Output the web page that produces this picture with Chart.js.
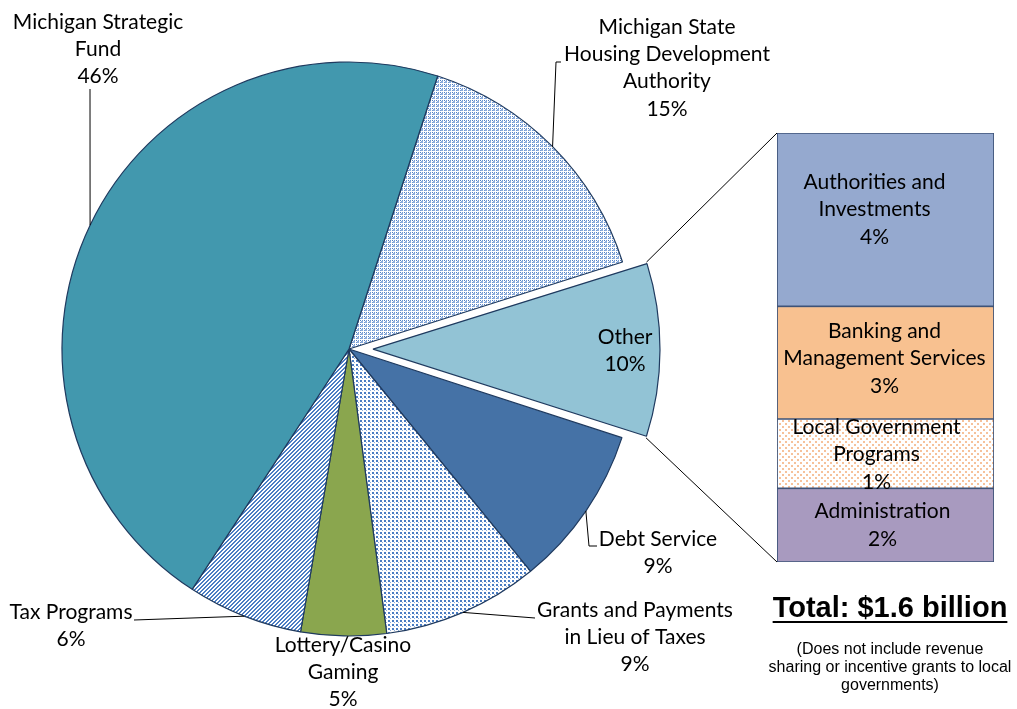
<!DOCTYPE html>
<html>
<head>
<meta charset="utf-8">
<script src="https://cdn.jsdelivr.net/npm/chart.js@4.4.1/dist/chart.umd.min.js"></script>
<style>
  body { margin: 0; background: #fff; }
  #wrap { position: relative; width: 1017px; height: 709px; overflow: hidden; background: #fff; }
  #pieChart { position: absolute; left: 0; top: 0; }
  #barChart { position: absolute; left: 776px; top: 132px; }
  #total {
    position: absolute; left: 740px; top: 592px; width: 300px; text-align: center;
    font: bold 29px "Liberation Sans", Arial, sans-serif; line-height: 30px;
    text-decoration: underline; text-decoration-thickness: 2px; text-underline-offset: 4px; color: #000;
  }
  #note {
    position: absolute; left: 740px; top: 640px; width: 300px; text-align: center;
    font: 16px "Liberation Sans", Arial, sans-serif; line-height: 18px; color: #000;
  }
</style>
</head>
<body>
<div id="wrap">
  <canvas id="pieChart" width="1017" height="709"></canvas>
  <canvas id="barChart" width="219" height="431"></canvas>
  <div id="total">Total: $1.6 billion</div>
  <div id="note">(Does not include revenue<br>sharing or incentive grants to local<br>governments)</div>
</div>
<script>
// 類別與比例
const CATEGORIES = [
  ["Michigan State", "Housing Development", "Authority"],
  ["Other"],
  ["Debt Service"],
  ["Grants and Payments", "in Lieu of Taxes"],
  ["Lottery/Casino", "Gaming"],
  ["Tax Programs"],
  ["Michigan Strategic", "Fund"]
];
const SHARES = [15.1, 9.9, 9.1, 8.8, 4.8, 6.5, 45.8];
const SHARE_LABELS = ["15%", "10%", "9%", "9%", "5%", "6%", "46%"];

// 右側「Other」拆解
const OTHER_PARTS = [
  ["Authorities and", "Investments"],
  ["Banking and", "Management Services"],
  ["Local Government", "Programs"],
  ["Administration"]
];
const OTHER_SHARES = [4.0, 2.6, 1.6, 1.7];
const OTHER_LABELS = ["4%", "3%", "1%", "2%"];

const FONT = '21px Lato, "Open Sans", sans-serif';
const LINE_H = 27.3;
const OTHER_PULL = 24; // Other 扇形拉出距離

// 工具：小圖樣填色
function makePattern(w, h, bg, dots) {
  const c = document.createElement("canvas");
  c.width = w;
  c.height = h;
  const g = c.getContext("2d");
  g.fillStyle = bg;
  g.fillRect(0, 0, w, h);
  dots.forEach(([x, y, dw, dh, col]) => {
    g.fillStyle = col;
    g.fillRect(x, y, dw, dh);
  });
  return g.createPattern(c, "repeat");
}

const gridPattern = makePattern(4, 4, "#ffffff", [
  [1, 1, 2, 2, "#8eaedd"],
  [0, 0, 1, 1, "#4a7cc2"],
  [2, 0, 1, 1, "#7199d3"],
  [0, 2, 1, 1, "#7199d3"]
]);
const dotPattern = makePattern(4, 4, "#ffffff", [
  [0, 0, 2, 2, "#4a7cc2"],
  [2, 2, 1, 1, "#8eaedd"]
]);
const S = "#4c7ec4";
const stripePattern = makePattern(4, 4, "#ffffff", [
  [3, 0, 1, 1, S], [0, 0, 1, 1, S],
  [2, 1, 1, 1, S], [3, 1, 1, 1, S],
  [1, 2, 1, 1, S], [2, 2, 1, 1, S],
  [0, 3, 1, 1, S], [1, 3, 1, 1, S]
]);
const orangeDots = makePattern(6, 6, "#ffffff", [
  [0, 0, 2, 2, "#f6c29b"],
  [3, 3, 2, 2, "#f6c29b"]
]);

const PIE_COLORS = [gridPattern, "#92c3d5", "#4572a6", dotPattern, "#8aa64e", stripePattern, "#4298ae"];
const BAR_COLORS = ["#95a9cf", "#f8c190", orangeDots, "#a89abf"];

// 標籤位置與引線（文字中心、引線轉折點）
const LABEL_POS = [
  { x: 667, y: 27, leader: [[561, 62], [556, 62]] },
  { x: 625, y: 337 },
  { x: 658, y: 539, leader: [[597, 546], [589, 546]] },
  { x: 635, y: 610, leader: [[535, 618]] },
  { x: 343, y: 645 },
  { x: 71, y: 612, leader: [[134, 620]] },
  { x: 98, y: 22, leader: [[90, 89]] }
];
const BAR_LABEL_SHIFT = [[-11, -10], [-1, -4], [-9, 1], [-3, 0]];

function drawLines(ctx, x, y, lines) {
  lines.forEach((t, i) => ctx.fillText(t, x, y + i * LINE_H));
}

// 右側堆疊長條
const barChart = new Chart(document.getElementById("barChart"), {
  type: "bar",
  data: {
    labels: ["Other"],
    datasets: OTHER_SHARES.map((v, i) => ({
      label: OTHER_PARTS[i].join(" "),
      data: [v],
      backgroundColor: BAR_COLORS[i],
      borderColor: "#3e5378",
      borderWidth: 1.2,
      borderSkipped: false,
      barPercentage: 1,
      categoryPercentage: 1
    }))
  },
  options: {
    responsive: false,
    animation: false,
    devicePixelRatio: 1,
    layout: { padding: 1 },
    plugins: { legend: { display: false }, tooltip: { enabled: false } },
    scales: {
      x: { display: false, stacked: true },
      y: {
        display: false,
        stacked: true,
        reverse: true,
        min: 0,
        max: OTHER_SHARES.reduce((a, b) => a + b, 0)
      }
    }
  },
  plugins: [{
    id: "barLabels",
    afterDatasetsDraw(chart) {
      const ctx = chart.ctx;
      ctx.save();
      ctx.font = FONT;
      ctx.fillStyle = "#000";
      ctx.textAlign = "center";
      ctx.textBaseline = "middle";
      chart.data.datasets.forEach((ds, i) => {
        const el = chart.getDatasetMeta(i).data[0];
        const lines = OTHER_PARTS[i].concat([OTHER_LABELS[i]]);
        const cy = (el.y + el.base) / 2 + BAR_LABEL_SHIFT[i][1];
        const y0 = cy - (lines.length - 1) * LINE_H / 2;
        drawLines(ctx, el.x + BAR_LABEL_SHIFT[i][0], y0, lines);
      });
      ctx.restore();
    }
  }]
});

// 主圓餅圖
const barCanvas = document.getElementById("barChart");
new Chart(document.getElementById("pieChart"), {
  type: "pie",
  data: {
    labels: CATEGORIES.map((c) => c.join(" ")),
    datasets: [{
      data: SHARES,
      backgroundColor: PIE_COLORS,
      borderColor: "#1f3a5f",
      borderWidth: 1.2,
      // Chart.js 的 arc 只平移 offset/4
      offset: SHARES.map((v, i) => (i === 1 ? OTHER_PULL * 4 : 0)),
      hoverOffset: 0
    }]
  },
  options: {
    responsive: false,
    animation: false,
    devicePixelRatio: 1,
    rotation: 18,
    radius: 287,
    layout: { padding: { left: 0, top: 0, right: 319, bottom: 11 } },
    plugins: { legend: { display: false }, tooltip: { enabled: false } }
  },
  plugins: [{
    id: "pieLabels",
    afterUpdate(chart) {
      // 拉出的扇形不要變大
      chart.getDatasetMeta(0).data.forEach((arc) => {
        const pull = (arc.options.offset || 0) / 4;
        const circ = arc.endAngle - arc.startAngle;
        arc.outerRadius -= pull * (1 - Math.sin(Math.min(Math.PI, circ)));
      });
    },
    afterDraw(chart) {
      const ctx = chart.ctx;
      const arcs = chart.getDatasetMeta(0).data;
      const R = arcs[0].outerRadius;
      ctx.save();

      // 引線
      ctx.strokeStyle = "#000";
      ctx.lineWidth = 1;
      arcs.forEach((arc, i) => {
        const pos = LABEL_POS[i];
        if (!pos.leader) return;
        const mid = (arc.startAngle + arc.endAngle) / 2;
        ctx.beginPath();
        ctx.moveTo(arc.x + Math.cos(mid) * R, arc.y + Math.sin(mid) * R);
        pos.leader.slice().reverse().forEach(([x, y]) => ctx.lineTo(x, y));
        ctx.stroke();
      });

      // Other 與右側長條之間的連接線
      const other = arcs[1];
      const om = (other.startAngle + other.endAngle) / 2;
      const ox = other.x + Math.cos(om) * OTHER_PULL;
      const oy = other.y + Math.sin(om) * OTHER_PULL;
      const area = barChart.chartArea;
      const bx = barCanvas.offsetLeft + area.left;
      ctx.beginPath();
      ctx.moveTo(ox + Math.cos(other.startAngle) * R, oy + Math.sin(other.startAngle) * R);
      ctx.lineTo(bx, barCanvas.offsetTop + area.top);
      ctx.moveTo(ox + Math.cos(other.endAngle) * R, oy + Math.sin(other.endAngle) * R);
      ctx.lineTo(bx, barCanvas.offsetTop + area.bottom);
      ctx.stroke();

      // 文字
      ctx.font = FONT;
      ctx.fillStyle = "#000";
      ctx.textAlign = "center";
      ctx.textBaseline = "middle";
      arcs.forEach((arc, i) => {
        const pos = LABEL_POS[i];
        drawLines(ctx, pos.x, pos.y, CATEGORIES[i].concat([SHARE_LABELS[i]]));
      });
      ctx.restore();
    }
  }]
});
</script>
</body>
</html>
